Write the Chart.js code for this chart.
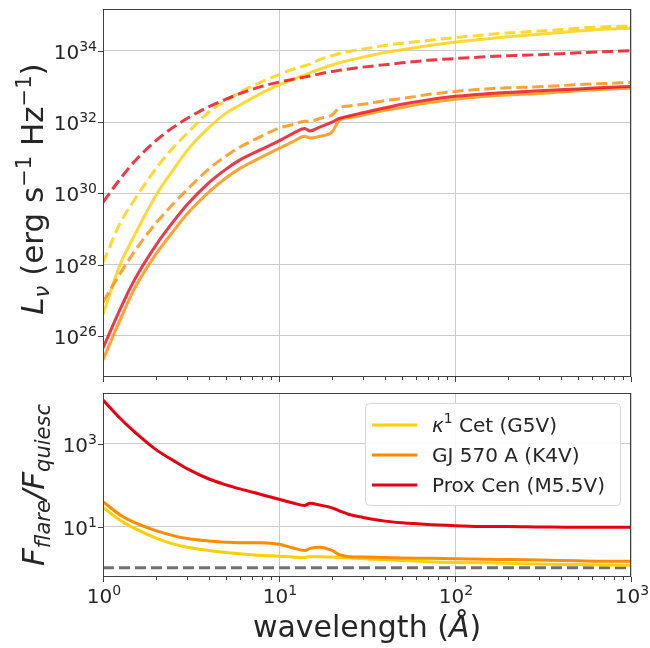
<!DOCTYPE html>
<html>
<head>
<meta charset="utf-8">
<script src="https://cdn.jsdelivr.net/npm/chart.js@4.4.1/dist/chart.umd.min.js"></script>
<style>
  body { margin: 0; background: #fff; }
  #wrap { position: relative; width: 650px; height: 648px; }
  canvas { position: absolute; left: 0; }
</style>
</head>
<body>
<div id="wrap">
  <canvas id="lum" width="650" height="385" style="top:0"></canvas>
  <canvas id="ratio" width="650" height="263" style="top:385px"></canvas>
</div>
<script>
// wavelength grid (Angstrom)
const wave = [1, 1.25, 1.5, 2, 2.5, 3, 4, 5, 6, 8, 10, 12, 14, 15, 17, 20, 22, 25, 30, 40, 50, 70, 100, 150, 200, 300, 500, 700, 1000];

// L_nu (erg s^-1 Hz^-1), quiescent (solid) and flare (dashed)
const kapQuiet = [3.98e26, 1.0e28, 6.31e28, 8.91e29, 4.47e30, 1.58e31, 7.08e31, 1.78e32, 3.02e32, 6.61e32, 1.1e33, 1.58e33, 2.09e33, 2.4e33, 3.02e33, 3.98e33, 4.57e33, 5.37e33, 6.61e33, 8.91e33, 1.07e34, 1.38e34, 1.74e34, 2.14e34, 2.45e34, 2.88e34, 3.55e34, 3.98e34, 4.27e34];
const kapFlare = [1.15e28, 1.45e29, 6.31e29, 5.01e30, 1.91e31, 4.79e31, 1.91e32, 3.98e32, 6.92e32, 1.35e33, 2.14e33, 3.02e33, 3.8e33, 4.27e33, 5.62e33, 7.24e33, 8.32e33, 9.55e33, 1.12e34, 1.41e34, 1.62e34, 1.95e34, 2.34e34, 2.82e34, 3.16e34, 3.55e34, 4.27e34, 4.68e34, 4.9e34];
const gjQuiet = [2.14e25, 2.82e26, 2.0e27, 2.0e28, 8.51e28, 2.63e29, 1.1e30, 2.69e30, 5.01e30, 1.05e31, 1.82e31, 2.82e31, 3.98e31, 3.55e31, 3.98e31, 5.25e31, 1.12e32, 1.32e32, 1.58e32, 2.14e32, 2.57e32, 3.47e32, 4.37e32, 5.25e32, 5.75e32, 6.31e32, 7.59e32, 8.32e32, 8.91e32];
const gjFlare = [8.91e26, 5.62e27, 2.24e28, 1.48e29, 5.01e29, 1.26e30, 4.9e30, 1.12e31, 2.0e31, 4.07e31, 6.76e31, 8.51e31, 1.05e32, 1.05e32, 1.26e32, 1.58e32, 2.51e32, 2.82e32, 3.16e32, 3.98e32, 4.57e32, 5.89e32, 7.24e32, 8.51e32, 9.12e32, 9.77e32, 1.12e33, 1.2e33, 1.29e33];
const proxQuiet = [4.57e25, 5.62e26, 3.55e27, 3.55e28, 1.58e29, 4.79e29, 2.0e30, 4.79e30, 8.71e30, 1.74e31, 2.95e31, 4.79e31, 6.61e31, 5.62e31, 7.24e31, 1.0e32, 1.26e32, 1.48e32, 1.82e32, 2.51e32, 3.16e32, 4.17e32, 5.25e32, 6.17e32, 6.76e32, 7.59e32, 8.51e32, 9.33e32, 1.0e33];
const proxFlare = [5.62e29, 2.51e30, 7.59e30, 3.02e31, 7.08e31, 1.26e32, 2.69e32, 4.37e32, 6.31e32, 1.0e33, 1.32e33, 1.58e33, 1.82e33, 1.95e33, 2.24e33, 2.63e33, 2.82e33, 3.09e33, 3.47e33, 4.07e33, 4.57e33, 5.37e33, 6.03e33, 6.76e33, 7.24e33, 7.76e33, 8.71e33, 9.33e33, 1.0e34];

// F_flare / F_quiesc
const kapRatio = [28.8, 14.1, 9.12, 5.25, 3.8, 3.16, 2.63, 2.34, 2.19, 2.0, 1.91, 1.82, 1.78, 1.86, 1.86, 1.82, 1.78, 1.74, 1.66, 1.58, 1.51, 1.41, 1.35, 1.32, 1.29, 1.23, 1.2, 1.17, 1.15];
const gjRatio = [39.8, 19.1, 12.6, 7.94, 6.03, 5.13, 4.47, 4.17, 4.07, 4.07, 3.72, 3.02, 2.63, 2.95, 3.16, 2.63, 2.09, 1.86, 1.82, 1.78, 1.74, 1.70, 1.66, 1.62, 1.58, 1.55, 1.48, 1.45, 1.45];
const proxRatio = [11500, 4170, 2000, 724, 398, 251, 141, 102, 81.3, 58.9, 45.7, 37.2, 32.4, 36.3, 33.1, 28.2, 24.0, 19.5, 16.6, 13.5, 12.3, 11.2, 10.5, 10.0, 10.0, 9.77, 9.55, 9.55, 9.55];
const unity = [1, 1];
const unityWave = [1, 1000];

// axis ticks
const xTicks = [1, 2, 3, 4, 5, 6, 7, 8, 9, 10, 20, 30, 40, 50, 60, 70, 80, 90, 100, 200, 300, 400, 500, 600, 700, 800, 900, 1000];
const lumTicks = [1e26, 1e28, 1e30, 1e32, 1e34];
const ratioTicks = [10, 1000];

const YELLOW = '#ffd000', ORANGE = '#ff8c00', RED = '#e60012';
const YELLOW_A = 'rgba(255,208,0,0.8)', ORANGE_A = 'rgba(255,140,0,0.8)', RED_A = 'rgba(232,0,18,0.78)';
const FONT = '"DejaVu Sans", sans-serif';
const INK = '#262626', FRAME = '#404040', GRID = '#cccccc';

const pts = (xs, ys) => xs.map((w, i) => ({ x: w, y: ys[i] }));
const isDecade = v => Math.abs(Math.log10(v) - Math.round(Math.log10(v))) < 1e-6;
const fnt = (size, italic) => (italic ? 'italic ' : '') + size + 'px ' + FONT;

function drawRuns(ctx, runs, x, y, align, angle) {
  ctx.save();
  ctx.translate(x, y);
  if (angle) ctx.rotate(angle);
  let total = 0;
  runs.forEach(r => { ctx.font = r.f; r.w = ctx.measureText(r.t).width; total += r.w; });
  let cx = align === 'center' ? -total / 2 : align === 'right' ? -total : 0;
  ctx.textAlign = 'left';
  ctx.textBaseline = 'alphabetic';
  ctx.fillStyle = INK;
  runs.forEach(r => { ctx.font = r.f; ctx.fillText(r.t, cx, r.dy || 0); cx += r.w; });
  ctx.restore();
}
const powRuns = v => [{ t: '10', f: fnt(20) }, { t: String(Math.round(Math.log10(v))), f: fnt(14), dy: -8 }];

function drawTicks(chart, axis) {
  const s = chart.scales[axis], a = chart.chartArea, ctx = chart.ctx;
  ctx.save();
  ctx.strokeStyle = FRAME;
  ctx.lineWidth = 1;
  ctx.beginPath();
  s.ticks.forEach(t => {
    const p = Math.round(s.getPixelForValue(t.value)) + 0.5;
    const len = isDecade(t.value) ? 5 : 3;
    if (axis === 'x') { ctx.moveTo(p, a.bottom); ctx.lineTo(p, a.bottom + len); }
    else { ctx.moveTo(a.left, p); ctx.lineTo(a.left - len, p); }
  });
  ctx.stroke();
  ctx.strokeRect(a.left + 0.5, a.top + 0.5, a.right - a.left - 1, a.bottom - a.top - 1);
  ctx.restore();
}

function yLabels(chart) {
  const s = chart.scales.y;
  s.ticks.forEach(t => {
    const p = s.getPixelForValue(t.value);
    drawRuns(chart.ctx, powRuns(t.value), 97, p + 8, 'right');
  });
}

function xAxis(values, fixHeight) {
  return {
    type: 'logarithmic', min: 1, max: 1000,
    afterBuildTicks: s => { s.ticks = values.map(v => ({ value: v, major: isDecade(v) })); },
    afterFit: s => { s.height = fixHeight; },
    ticks: { display: false },
    border: { display: false },
    grid: { drawTicks: false, lineWidth: 1, color: c => (c.tick && isDecade(c.tick.value)) ? GRID : 'rgba(0,0,0,0)' }
  };
}
function yAxis(values, min, max) {
  return {
    type: 'logarithmic', min: min, max: max,
    afterBuildTicks: s => { s.ticks = values.map(v => ({ value: v, major: true })); },
    afterFit: s => { s.width = 103; },
    ticks: { display: false },
    border: { display: false },
    grid: { drawTicks: false, lineWidth: 1, color: GRID }
  };
}

const common = {
  responsive: false,
  animation: false,
  events: [],
  plugins: { legend: { display: false }, tooltip: { enabled: false } },
  elements: { point: { radius: 0 }, line: { borderWidth: 3, cubicInterpolationMode: 'monotone' } }
};

// top panel: luminosity
new Chart(document.getElementById('lum'), {
  type: 'line',
  data: {
    datasets: [
      { label: 'Prox Cen flare', data: pts(wave, proxFlare), borderColor: RED_A, borderDash: [11, 5] },
      { label: 'Prox Cen', data: pts(wave, proxQuiet), borderColor: RED_A },
      { label: 'GJ 570 A flare', data: pts(wave, gjFlare), borderColor: ORANGE_A, borderDash: [11, 5] },
      { label: 'GJ 570 A', data: pts(wave, gjQuiet), borderColor: ORANGE_A },
      { label: 'kappa1 Cet flare', data: pts(wave, kapFlare), borderColor: YELLOW_A, borderDash: [11, 5] },
      { label: 'kappa1 Cet', data: pts(wave, kapQuiet), borderColor: YELLOW_A }
    ]
  },
  options: Object.assign({}, common, {
    layout: { padding: { top: 9, right: 19, left: 0, bottom: 0 } },
    scales: { x: xAxis(xTicks, 8), y: yAxis(lumTicks, 7.08e24, 1.48e35) }
  }),
  plugins: [{
    id: 'lumDecor',
    afterDraw(chart) {
      drawTicks(chart, 'x');
      drawTicks(chart, 'y');
      yLabels(chart);
      drawRuns(chart.ctx, [
        { t: 'L', f: fnt(31, true) },
        { t: 'ν', f: fnt(21, true), dy: 6 },
        { t: ' (erg s', f: fnt(31) },
        { t: '−1', f: fnt(21), dy: -12 },
        { t: ' Hz', f: fnt(31) },
        { t: '−1', f: fnt(21), dy: -12 },
        { t: ')', f: fnt(31) }
      ], 43, 189, 'center', -Math.PI / 2);
    }
  }]
});

// bottom panel: flare / quiescent ratio
const legendItems = [
  { color: YELLOW, runs: [{ t: 'κ', f: fnt(20, true) }, { t: '1', f: fnt(14), dy: -9 }, { t: ' Cet (G5V)', f: fnt(20) }] },
  { color: ORANGE, runs: [{ t: 'GJ 570 A (K4V)', f: fnt(20) }] },
  { color: RED, runs: [{ t: 'Prox Cen (M5.5V)', f: fnt(20) }] }
];

new Chart(document.getElementById('ratio'), {
  type: 'line',
  data: {
    datasets: [
      { label: 'Prox Cen (M5.5V)', data: pts(wave, proxRatio), borderColor: RED },
      { label: 'GJ 570 A (K4V)', data: pts(wave, gjRatio), borderColor: ORANGE },
      { label: 'κ1 Cet (G5V)', data: pts(wave, kapRatio), borderColor: YELLOW },
      { label: 'unity', data: pts(unityWave, unity), borderColor: '#707070', borderDash: [11, 5] }
    ]
  },
  options: Object.assign({}, common, {
    layout: { padding: { top: 8, right: 19, left: 0, bottom: 0 } },
    scales: { x: xAxis(xTicks, 71), y: yAxis(ratioTicks, 0.63, 1.7e4) }
  }),
  plugins: [{
    id: 'ratioDecor',
    afterDraw(chart) {
      const ctx = chart.ctx, a = chart.chartArea, sx = chart.scales.x;
      drawTicks(chart, 'x');
      drawTicks(chart, 'y');
      yLabels(chart);
      sx.ticks.filter(t => isDecade(t.value)).forEach(t => {
        drawRuns(ctx, powRuns(t.value), sx.getPixelForValue(t.value) + 1, a.bottom + 26, 'center');
      });
      drawRuns(ctx, [
        { t: 'wavelength (', f: fnt(30) },
        { t: 'Å', f: fnt(30, true) },
        { t: ')', f: fnt(30) }
      ], (a.left + a.right) / 2, 252, 'center');
      drawRuns(ctx, [
        { t: 'F', f: fnt(31, true) },
        { t: 'flare', f: fnt(21, true), dy: 6 },
        { t: '/', f: fnt(31, true) },
        { t: 'F', f: fnt(31, true) },
        { t: 'quiesc', f: fnt(21, true), dy: 6 }
      ], 44, 100, 'center', -Math.PI / 2);

      // legend
      ctx.save();
      ctx.beginPath();
      ctx.roundRect(365.5, 18.5, 255, 102, 4);
      ctx.fillStyle = 'rgba(255,255,255,0.85)';
      ctx.fill();
      ctx.strokeStyle = '#d6d6d6';
      ctx.lineWidth = 1;
      ctx.stroke();
      legendItems.forEach((item, i) => {
        const y = 40 + i * 30;
        ctx.beginPath();
        ctx.strokeStyle = item.color;
        ctx.lineWidth = 3;
        ctx.moveTo(372, y);
        ctx.lineTo(417, y);
        ctx.stroke();
        drawRuns(ctx, item.runs, 432, y + 7, 'left');
      });
      ctx.restore();
    }
  }]
});
</script>
</body>
</html>
